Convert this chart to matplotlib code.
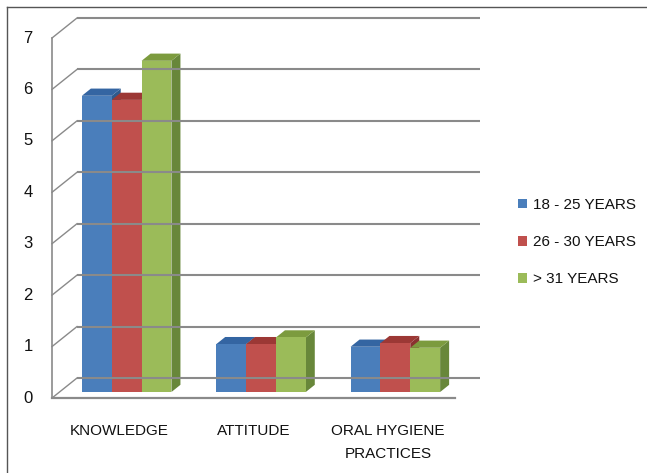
import matplotlib
matplotlib.use("Agg")
import matplotlib.pyplot as plt
from matplotlib.patches import Polygon, Patch
from matplotlib.lines import Line2D

# ---- data ----
categories = ["KNOWLEDGE", "ATTITUDE", "ORAL HYGIENE\nPRACTICES"]
series_names = ["18 - 25 YEARS", "26 - 30 YEARS", "> 31 YEARS"]
age_18_25 = [5.76, 0.93, 0.88]
age_26_30 = [5.68, 0.93, 0.95]
age_31_plus = [6.44, 1.06, 0.86]
y_ticks = [0, 1, 2, 3, 4, 5, 6, 7]

# ---- style ----
plt.rcParams["font.family"] = ["Liberation Sans", "DejaVu Sans"]
front_cols = ["#4A7EBB", "#C0504D", "#9BBB59"]
top_cols = ["#3465A2", "#9C3835", "#7C9B3E"]
side_cols = ["#2F5A8C", "#8A3230", "#68873A"]
grid_col = "#8A8A8A"
text_col = "#111111"

# depth projection (data units of the front plane)
DX, DY = 0.186, 0.389
def proj(x, v, d):
    return (x + d * DX, v + d * DY)

fig = plt.figure(figsize=(6.47, 4.73), dpi=100)
ax = fig.add_axes([0, 0, 1, 1])
ax.set_xlim(-0.387, 4.429)
ax.set_ylim(-1.458, 7.739)
ax.axis("off")

ncat = len(categories)
vmax = y_ticks[-1]

# back wall gridlines and left wall diagonals
for t in y_ticks:
    xb0, yb0 = proj(0, t, 1)
    xb1, yb1 = proj(ncat, t, 1)
    ax.plot([xb0, xb1], [yb0, yb1], color=grid_col, lw=1.5, solid_capstyle="butt")
    xf, yf = proj(0, t, 0)
    ax.plot([xf, xb0], [yf, yb0], color=grid_col, lw=1.0)
    ax.text(-0.179, t, str(t), ha="center", va="center", fontsize=12, color=text_col)
# front left edge and front floor line
ax.plot([0, 0], [0, vmax], color=grid_col, lw=1.2)
ax.plot([0, ncat], [0, 0], color=grid_col, lw=1.6)

# bars
all_vals = [age_18_25, age_26_30, age_31_plus]
bw = 1 / 4.5
off = 0.75 / 4.5
d0, d1 = 0.30, 0.66
for i in range(ncat):
    for j, vals in enumerate(all_vals):
        v = vals[i]
        x0 = i + off + j * bw
        x1 = x0 + bw
        side = [proj(x1, 0, d0), proj(x1, 0, d1), proj(x1, v, d1), proj(x1, v, d0)]
        ax.add_patch(Polygon(side, closed=True, facecolor=side_cols[j], edgecolor="none"))
        top = [proj(x0, v, d0), proj(x1, v, d0), proj(x1, v, d1), proj(x0, v, d1)]
        ax.add_patch(Polygon(top, closed=True, facecolor=top_cols[j], edgecolor="none"))
        front = [proj(x0, 0, d0), proj(x1, 0, d0), proj(x1, v, d0), proj(x0, v, d0)]
        ax.add_patch(Polygon(front, closed=True, facecolor=front_cols[j], edgecolor="none"))

# category labels
for i, c in enumerate(categories):
    ax.text(i + 0.5, -0.50, c, ha="center", va="top", fontsize=11,
            color=text_col, linespacing=1.85)

# outer frame (top and left visible)
fig.add_artist(Line2D([7 / 647, 1.0], [1 - 7 / 473, 1 - 7 / 473],
                      transform=fig.transFigure, color="#555555", lw=1.0))
fig.add_artist(Line2D([7 / 647, 7 / 647], [0, 1 - 7 / 473],
                      transform=fig.transFigure, color="#555555", lw=1.0))

# legend
handles = [Patch(facecolor=front_cols[k], edgecolor="none") for k in range(3)]
leg = fig.legend(handles, series_names, loc="upper left",
                 bbox_to_anchor=(518 / 647, 1 - 198 / 473), frameon=False,
                 fontsize=11, handlelength=0.6, handleheight=0.6, handletextpad=0.4,
                 labelspacing=1.52, borderpad=0, borderaxespad=0)
for t in leg.get_texts():
    t.set_color(text_col)

fig.savefig("out.png", dpi=100)
